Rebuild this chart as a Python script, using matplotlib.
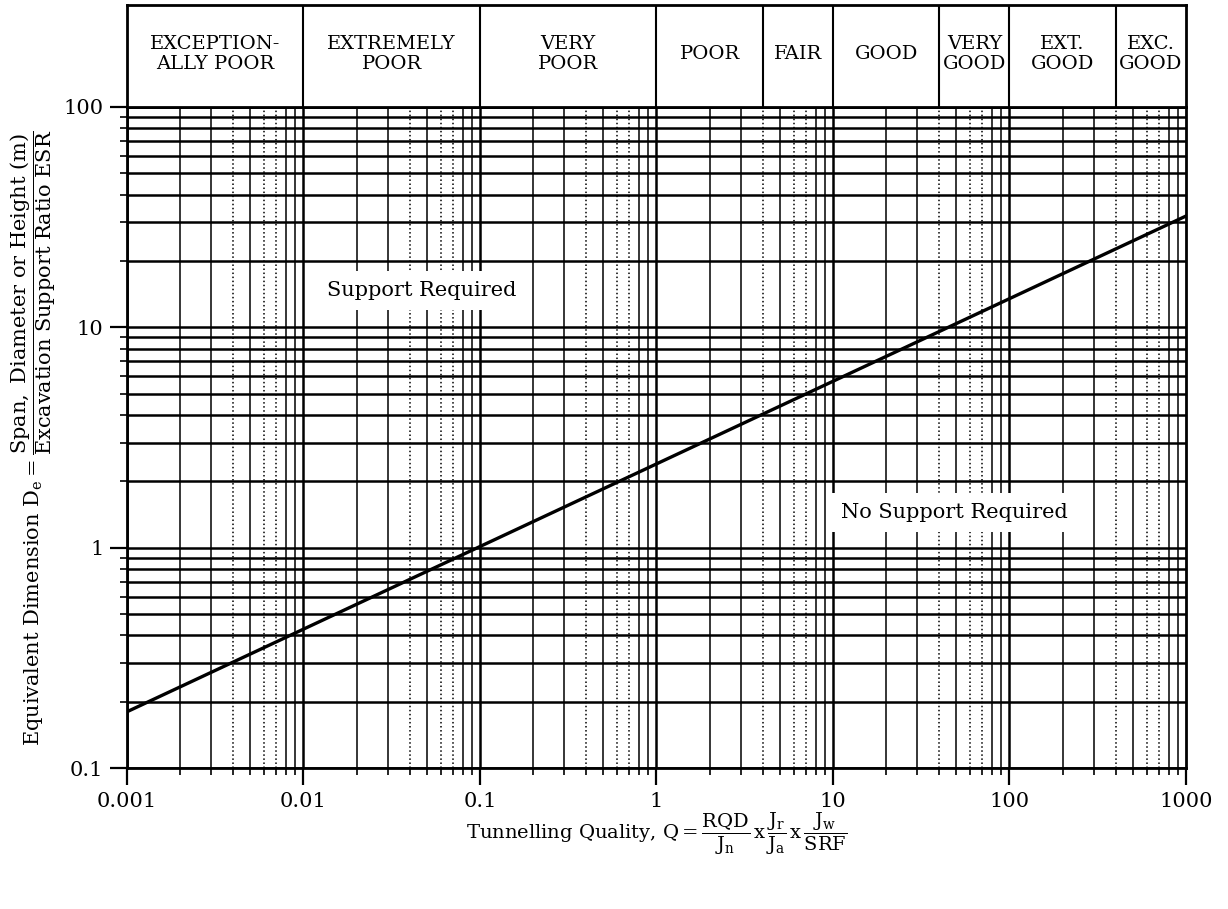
import matplotlib
matplotlib.use("Agg")
import matplotlib.pyplot as plt
from matplotlib.ticker import LogLocator, FixedLocator, NullFormatter

plt.rcParams["font.family"] = "DejaVu Serif"
plt.rcParams["mathtext.fontset"] = "dejavuserif"

# rock mass classes (Q boundaries) shown in the top band
class_edges = [0.001, 0.01, 0.1, 1, 4, 10, 40, 100, 400, 1000]
class_labels = ["EXCEPTION-\nALLY POOR", "EXTREMELY\nPOOR", "VERY\nPOOR", "POOR",
                "FAIR", "GOOD", "VERY\nGOOD", "EXT.\nGOOD", "EXC.\nGOOD"]

# limit line between support / no support
line_q = [0.001, 1000]
line_de = [0.18, 32]

x_ticks = [0.001, 0.01, 0.1, 1, 10, 100, 1000]
x_tick_labels = ["0.001", "0.01", "0.1", "1", "10", "100", "1000"]
y_ticks = [0.1, 1, 10, 100]
y_tick_labels = ["0.1", "1", "10", "100"]

fig = plt.figure(figsize=(12.28, 9.09), dpi=100)
ax = fig.add_axes([0.1034, 0.1551, 0.8624, 0.7272])
band = fig.add_axes([0.1034, 0.8823, 0.8624, 0.1122])

ax.set_xscale("log")
ax.set_yscale("log")
ax.set_xlim(0.001, 1000)
ax.set_ylim(0.1, 100)

# horizontal grid: heavy solid lines at every log step
ax.yaxis.set_minor_locator(LogLocator(base=10, subs=range(2, 10)))
ax.yaxis.set_minor_formatter(NullFormatter())
ax.grid(True, which="both", axis="y", color="black", linewidth=1.8)

# vertical grid: mixed solid / dotted lines
vstyle = {2: "-", 3: "-", 4: ":", 5: "-", 6: ":", 7: ":", 8: "-", 9: "-"}
for dec in x_ticks[:-1]:
    ax.axvline(dec, color="black", linewidth=1.8)
    for m in range(2, 10):
        ax.axvline(dec * m, color="black", linewidth=1.1, linestyle=vstyle[m])

ax.plot(line_q, line_de, color="black", linewidth=2.4, zorder=5)

ax.xaxis.set_major_locator(FixedLocator(x_ticks))
ax.set_xticklabels(x_tick_labels)
ax.xaxis.set_minor_locator(LogLocator(base=10, subs=range(2, 10)))
ax.xaxis.set_minor_formatter(NullFormatter())
ax.yaxis.set_major_locator(FixedLocator(y_ticks))
ax.set_yticklabels(y_tick_labels)

ax.tick_params(which="major", direction="out", length=12, width=1.6,
               labelsize=15, pad=5)
ax.tick_params(which="minor", direction="out", length=5, width=1.2)
for s in ax.spines.values():
    s.set_linewidth(2)

txt_box = dict(facecolor="white", edgecolor="none", pad=7)
ax.text(0.047, 14.7, "Support Required", fontsize=15, ha="center", va="center",
        bbox=txt_box, zorder=6)
ax.text(49, 1.44, "No Support Required", fontsize=15, ha="center", va="center",
        bbox=txt_box, zorder=6)

ax.set_xlabel(r"Tunnelling Quality, $\mathrm{Q} = \dfrac{\mathrm{RQD}}{\mathrm{J_n}}"
              r"\,\mathrm{x}\,\dfrac{\mathrm{J_r}}{\mathrm{J_a}}\,\mathrm{x}\,"
              r"\dfrac{\mathrm{J_w}}{\mathrm{SRF}}$", fontsize=14, labelpad=0)
ax.set_ylabel(r"Equivalent Dimension $\mathrm{D_e} = \dfrac{\mathrm{Span,\ Diameter\ or\ Height\ (m)}}"
              r"{\mathrm{Excavation\ Support\ Ratio\ ESR}}$", fontsize=15, labelpad=4)

# top band with classes
band.set_xscale("log")
band.set_xlim(0.001, 1000)
band.set_ylim(0, 1)
band.set_xticks([])
band.set_yticks([])
band.minorticks_off()
for s in band.spines.values():
    s.set_linewidth(2)
for e in class_edges[1:-1]:
    band.axvline(e, color="black", linewidth=1.5)
for i, lab in enumerate(class_labels):
    xc = (class_edges[i] * class_edges[i + 1]) ** 0.5
    band.text(xc, 0.52, lab, ha="center", va="center", fontsize=14,
              linespacing=1.1)

fig.savefig("out.png", dpi=100)
